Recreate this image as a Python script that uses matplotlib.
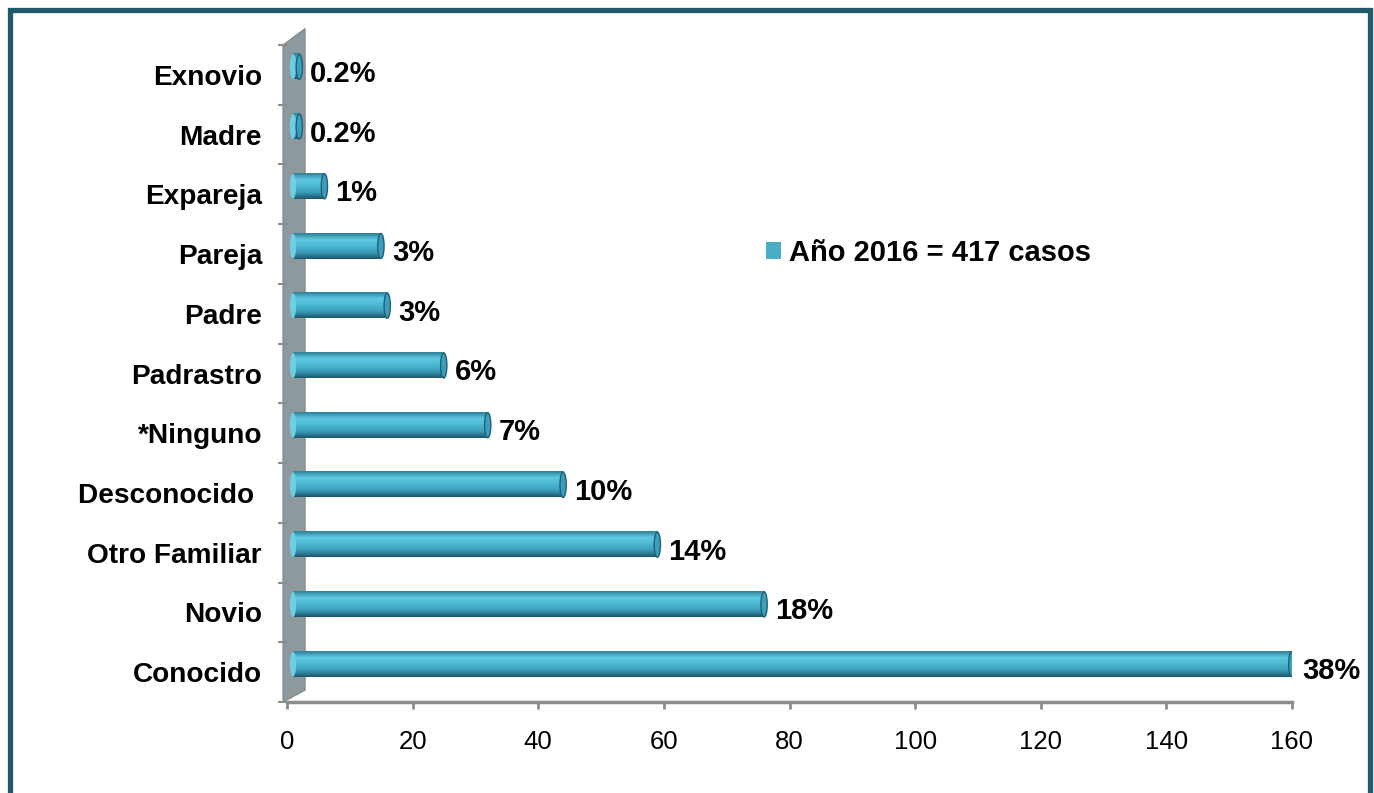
import matplotlib
matplotlib.use('Agg')
import matplotlib.pyplot as plt
import numpy as np
from matplotlib import transforms
from matplotlib.patches import Ellipse, Polygon, Rectangle, Patch
from matplotlib.colors import LinearSegmentedColormap

categories = ['Conocido', 'Novio', 'Otro Familiar', 'Desconocido ', '*Ninguno',
              'Padrastro', 'Padre', 'Pareja', 'Expareja', 'Madre', 'Exnovio']
values = [159, 75, 58, 43, 31, 24, 15, 14, 5, 1, 1]
pct_labels = ['38%', '18%', '14%', '10%', '7%', '6%', '3%', '3%', '1%', '0.2%', '0.2%']
xticks = [0, 20, 40, 60, 80, 100, 120, 140, 160]
legend_label = 'Año 2016 = 417 casos'

plt.rcParams['font.family'] = ['Liberation Sans', 'DejaVu Sans']

W, H = 1374, 793
fig = plt.figure(figsize=(W / 100, H / 100), dpi=100)
fig.patch.set_facecolor('white')
ax = fig.add_axes([287 / W, 1 - 702 / H, 1005 / W, 657 / H])
ax.set_facecolor('none')

# 3D side wall (decoration)
wall = Polygon([(-0.004, 0.0), (0.018, 0.018), (0.018, 1.025), (-0.004, 1.0)],
               closed=True, transform=ax.transAxes, clip_on=False,
               facecolor='#8d999d', edgecolor='#7a8689', lw=0.8, zorder=1)
ax.add_patch(wall)

cmap = LinearSegmentedColormap.from_list('cyl', ['#2f8099', '#5fc9e2', '#4cb8d3', '#3a9cb9', '#1d566d'])
grad = np.linspace(0, 1, 64).reshape(-1, 1)

bar_h = 0.42
cap_w = 1.0
trans = ax.transData + transforms.ScaledTranslation(6 / 100, 8 / 100, fig.dpi_scale_trans)
lab_trans = ax.transData + transforms.ScaledTranslation(17 / 100, 1 / 100, fig.dpi_scale_trans)

for i, (v, lab) in enumerate(zip(values, pct_labels)):
    im = ax.imshow(grad, extent=[0, v, i - bar_h / 2, i + bar_h / 2], aspect='auto',
                   cmap=cmap, interpolation='bilinear', origin='upper', zorder=2)
    im.set_transform(trans)
    ax.add_patch(Ellipse((0, i), cap_w, bar_h, transform=trans,
                         facecolor='#6ccfe6', edgecolor='none', zorder=3))
    ax.add_patch(Ellipse((v, i), cap_w, bar_h, transform=trans,
                         facecolor='#3b9fbb', edgecolor='#1f5f78', lw=1.0, zorder=3))
    ax.text(v, i, lab, transform=lab_trans, ha='left', va='center',
            fontsize=21, fontweight='bold', color='black', zorder=4)

ax.set_xlim(0, 160)
ax.set_ylim(-0.5, 10.5)

ax.set_xticks(xticks)
ax.set_xticklabels([str(t) for t in xticks], fontsize=18.5)
ax.tick_params(axis='x', length=5, width=2, color='#8c8c8c', pad=15)

ax.set_yticks(np.arange(-0.5, 11, 1))
ax.set_yticklabels([])
ax.set_yticks(range(len(categories)), minor=True)
ax.set_yticklabels(categories, minor=True, fontsize=20.2, fontweight='bold')
ax.tick_params(axis='y', which='major', length=6.5, width=1.5, color='#8c8c8c')
ax.tick_params(axis='y', which='minor', length=0, pad=18)

for s in ['top', 'right', 'left']:
    ax.spines[s].set_visible(False)
ax.spines['bottom'].set_color('#8c8c8c')
ax.spines['bottom'].set_linewidth(2.5)

fig.legend(handles=[Patch(facecolor='#4bacc6', edgecolor='none', label=legend_label)],
           loc='center left', bbox_to_anchor=(766 / W, 1 - 253 / H),
           frameon=False, prop={'weight': 'bold', 'size': 21},
           handlelength=0.5, handleheight=0.5, handletextpad=0.28,
           borderpad=0, borderaxespad=0)

# outer border
fig.add_artist(Rectangle((9.5 / W, -0.05), (1369.5 - 9.5) / W, 1 - 9.5 / H + 0.05,
                         transform=fig.transFigure, fill=False,
                         edgecolor='#1f5a6a', lw=3.8))

fig.savefig('out.png', dpi=100)
